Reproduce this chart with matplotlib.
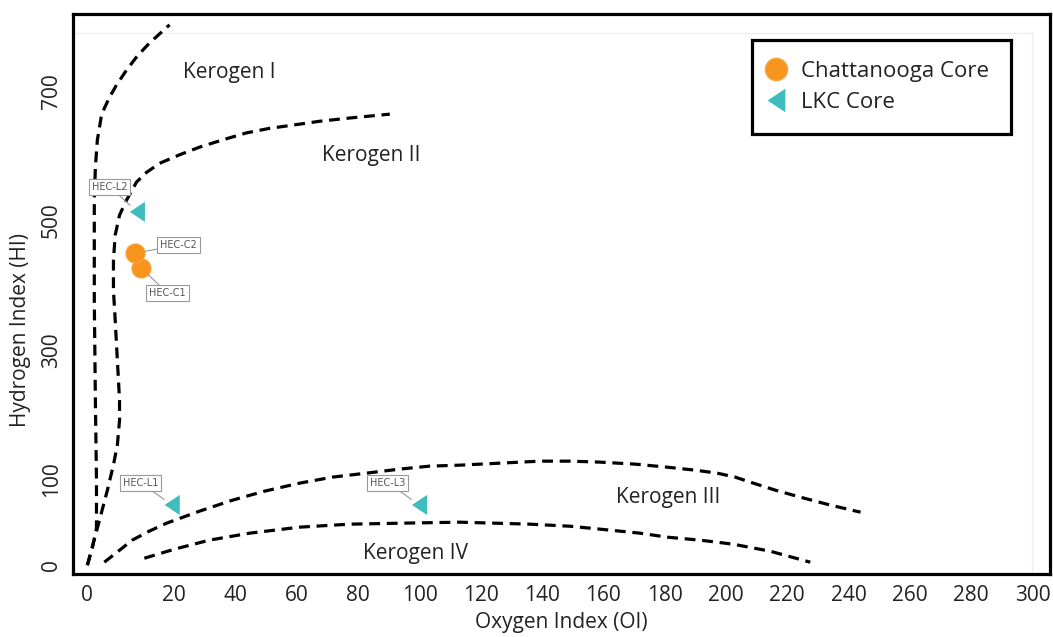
import numpy as np
import matplotlib
matplotlib.use("Agg")
import matplotlib.pyplot as plt
from matplotlib.lines import Line2D

plt.rcParams['font.family'] = ['Open Sans', 'DejaVu Sans']

# ---- sample data ----
chatt_oi = [12.4, 11.0]
chatt_hi = [426, 449]
chatt_names = ["HEC-C1", "HEC-C2"]

lkc_oi = [19.5, 11.5, 100]
lkc_hi = [70, 513, 70]
lkc_names = ["HEC-L1", "HEC-L2", "HEC-L3"]

# ---- kerogen type boundary curves (OI, HI) ----
k1_oi = [0, 1.15, 2.1, 2.1, 1.85, 1.6, 1.6, 1.85, 2.3, 3.2, 3.9, 5.1, 6.7, 9.0, 11.5, 14.3, 16.6, 18.9]
k1_hi = [0, 20, 43, 99, 222, 377, 531, 582, 624, 660, 673, 690, 709, 732, 754, 774, 788, 802]

k2_oi = [0, 2.3, 4.6, 6.0, 6.9, 7.4, 7.4, 6.9, 6.4, 6.0, 6.0, 6.4, 7.4, 9.0, 11.3, 13.6,
         16.6, 21.6, 28.2, 36.3, 43.5, 51, 58.6, 67.4, 77.2, 90.3]
k2_hi = [0, 43, 87, 122, 153, 191, 222, 284, 346, 392, 438, 477, 508, 531, 559, 574,
         588, 601, 613, 625, 635, 642, 647, 653, 658, 664]

k3_oi = [3.9, 7.4, 10.3, 14.2, 18.2, 28.2, 39.0, 49.4, 60.8, 71.6, 82.7, 93.5, 103.3, 113.1,
         126.2, 139.3, 149.1, 158.9, 170.3, 180.8, 189.9, 197.1, 203, 207.9, 216.1, 224.2,
         234.1, 243.9]
k3_hi = [3.5, 17.4, 29.1, 39.5, 48.8, 62.8, 75.6, 86, 95.3, 103.1, 109.3, 115.5, 120.1, 121.6,
         124.7, 127.8, 127.8, 126.3, 123.2, 118.5, 113.9, 109.3, 103.1, 96.5, 87.2, 79.1,
         69.8, 61.6]

k4_oi = [13.1, 20, 31.4, 44.5, 60.8, 77.2, 93.5, 113.1, 136, 149.1, 158.9, 172, 180.8,
         191.6, 202.4, 214.4, 227.5]
k4_hi = [8.1, 18.6, 29.1, 37.2, 44.2, 47.7, 48.8, 50, 47.7, 45.3, 41.9, 37.2, 32.6,
         29.1, 24.4, 16.3, 3.5]

x_ticks = [0, 20, 40, 60, 80, 100, 120, 140, 160, 180, 200, 220, 240, 260, 280, 300]
y_ticks = [0, 100, 300, 500, 700]

zone_names = ["Kerogen I", "Kerogen II", "Kerogen III", "Kerogen IV"]
zone_oi = [38, 84.4, 181, 98.8]
zone_hi = [729, 600, 79, 14]

ORANGE = "#F7941D"
TEAL = "#3DBDBD"

# piecewise-linear axes: the first interval of each axis is stretched
KX = 1.42
KY = 1.33


def fx(x):
    x = np.asarray(x, dtype=float)
    return np.where(x < 20, x * KX, 20 * KX + (x - 20))


def ix(u):
    u = np.asarray(u, dtype=float)
    return np.where(u < 20 * KX, u / KX, u - 20 * KX + 20)


def fy(y):
    y = np.asarray(y, dtype=float)
    return np.where(y < 100, y * KY, 100 * KY + (y - 100))


def iy(u):
    u = np.asarray(u, dtype=float)
    return np.where(u < 100 * KY, u / KY, u - 100 * KY + 100)


fig = plt.figure(figsize=(10.53, 6.37), dpi=100)
ax = fig.add_axes([0.0693, 0.0985, 0.9275, 0.8803])
ax.set_xscale('function', functions=(fx, ix))
ax.set_yscale('function', functions=(fy, iy))
ax.set_xlim(-3.3, 305.6)
ax.set_ylim(-10.5, 819.5)

# faint inner plot frame
ax.plot([-3.3, 300], [789, 789], color="#eeeeee", lw=1, zorder=0)
ax.plot([300, 300], [-10.5, 789], color="#eeeeee", lw=1, zorder=0)

dash = dict(color="black", lw=2.3, dashes=(3.4, 2.1), solid_capstyle='butt',
            dash_capstyle='butt', zorder=2)
for xs, ys in [(k1_oi, k1_hi), (k2_oi, k2_hi), (k3_oi, k3_hi), (k4_oi, k4_hi)]:
    ax.plot(xs, ys, **dash)

for name, x, y in zip(zone_names, zone_oi, zone_hi):
    ax.text(x, y, name, fontsize=15, color="#222222", ha="center", va="center")

tri = [(-0.75, 0), (0.75, 1), (0.75, -1)]
ax.scatter(chatt_oi, chatt_hi, s=190, marker='o', color=ORANGE,
           edgecolors="#F9A545", linewidths=0.8, zorder=4)
ax.scatter(lkc_oi, lkc_hi, s=210, marker=tri, color=TEAL,
           edgecolors="none", zorder=4)

box = dict(boxstyle="square,pad=0.3", fc="white", ec="#999999", lw=0.8)
arrow = dict(arrowstyle="-", color="#999999", lw=0.8, shrinkA=0, shrinkB=7)
offsets = {
    "HEC-C1": (19, -18),
    "HEC-C2": (31, 6),
    "HEC-L1": (-23, 16),
    "HEC-L2": (-20, 18),
    "HEC-L3": (-23, 16),
}
for names, xs, ys in [(chatt_names, chatt_oi, chatt_hi), (lkc_names, lkc_oi, lkc_hi)]:
    for n, x, y in zip(names, xs, ys):
        ax.annotate(n, (x, y), xytext=offsets[n], textcoords="offset points",
                    fontsize=7, color="#555555", family="DejaVu Sans",
                    ha="center", va="center", bbox=box, arrowprops=arrow, zorder=5)

ax.set_xticks(x_ticks)
ax.set_xticklabels([str(v) for v in x_ticks])
ax.set_yticks(y_ticks)
ax.set_yticklabels([str(v) for v in y_ticks], rotation=90, va="center")
ax.minorticks_off()
ax.tick_params(axis="both", length=0, labelsize=15, labelcolor="#222222")
ax.tick_params(axis="x", pad=8)
ax.tick_params(axis="y", pad=8)

for sp in ax.spines.values():
    sp.set_linewidth(2.3)
    sp.set_color("black")

ax.set_xlabel("Oxygen Index (OI)", fontsize=15, color="#222222")
ax.set_ylabel("Hydrogen Index (HI)", fontsize=15, color="#222222")
ax.xaxis.set_label_coords(0.5, -0.067)
ax.yaxis.set_label_coords(-0.0425, 0.435)

handles = [
    Line2D([], [], marker='o', ls='none', color=ORANGE, markersize=16,
           markeredgecolor="#F9A545", label="Chattanooga Core"),
    Line2D([], [], marker=tri, ls='none', color=TEAL, markersize=17,
           markeredgecolor="none", label="LKC Core"),
]
leg = ax.legend(handles=handles, loc="upper left",
                bbox_to_anchor=(0.6955, 0.9527, 0.2645, 0.0), mode="expand",
                fontsize=16, frameon=True, fancybox=False, framealpha=1,
                edgecolor="black", borderpad=0.95, labelspacing=0.45,
                handlelength=0.2, handletextpad=1.05, borderaxespad=0)
leg.get_frame().set_linewidth(2.3)
for t in leg.get_texts():
    t.set_color("#222222")

fig.savefig("out.png", dpi=100, facecolor="white")
